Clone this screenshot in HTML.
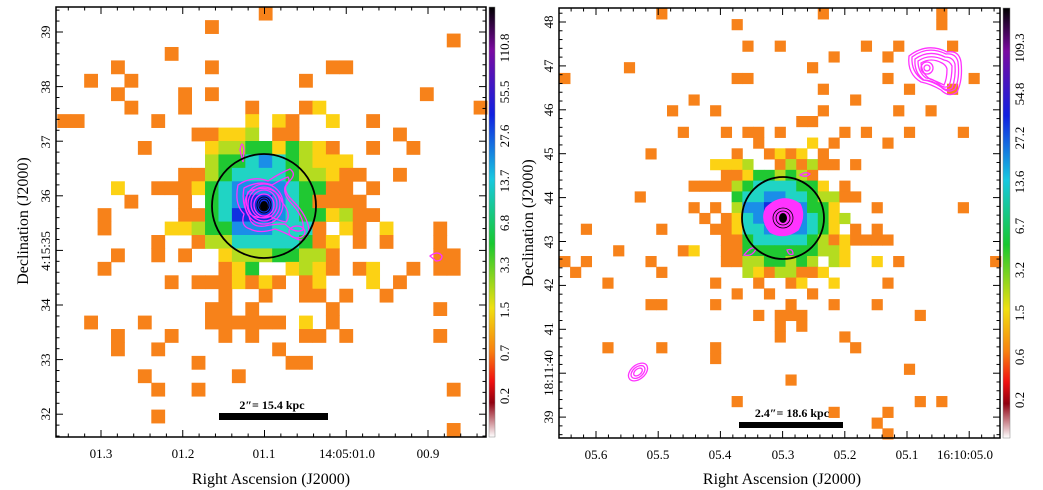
<!DOCTYPE html>
<html><head><meta charset="utf-8">
<style>
html,body{margin:0;padding:0;background:#fff;}
svg{display:block;font-family:"Liberation Serif",serif;}
</style></head>
<body>
<svg id="s" width="1043" height="490" viewBox="0 0 1043 490" xmlns="http://www.w3.org/2000/svg">
<defs>
<linearGradient id="cb" x1="0" y1="0" x2="0" y2="1">
<stop offset="0" stop-color="#000"/>
<stop offset="0.1" stop-color="#7a0aa0"/>
<stop offset="0.25" stop-color="#1020e0"/>
<stop offset="0.4" stop-color="#18c8e0"/>
<stop offset="0.55" stop-color="#18c830"/>
<stop offset="0.7" stop-color="#f0e010"/>
<stop offset="0.8" stop-color="#f88010"/>
<stop offset="0.87" stop-color="#f01010"/>
<stop offset="0.92" stop-color="#900010"/>
<stop offset="1" stop-color="#fff"/>
</linearGradient>
</defs>
<g id="px"></g>
<g id="tk" stroke="#000" stroke-width="1"></g>
<rect x="56" y="7" width="430" height="430" fill="none" stroke="#000" stroke-width="1.5"/>
<rect x="489" y="7" width="6" height="430" fill="url(#cb)" stroke="#888" stroke-width="0.5"/>
<rect x="559" y="8" width="441" height="430" fill="none" stroke="#000" stroke-width="1.5"/>
<rect x="1003" y="8" width="7" height="430" fill="url(#cb)" stroke="#888" stroke-width="0.5"/>

<!-- left contours -->
<g fill="none" stroke="#ff33ff" stroke-width="1.3">
<path d="M240,150 q2,-12 4,0 l-1,12 z"/>
<path d="M238,185 q15,-10 30,-4 q12,-8 22,-12 q8,6 -3,14 q-5,8 6,18 q15,15 16,30 q-3,12 -12,8 q-15,-8 -22,-10 q-15,5 -25,0 q-10,-3 -6,-15 q-10,-10 -6,-29z"/>
<path d="M244,188 q15,-8 28,-3 q10,-6 16,-8 q3,4 -3,10 q-2,8 8,18 q12,14 10,25 q-8,4 -18,-6 q-12,0 -20,2 q-14,2 -16,-10 q-8,-12 -5,-28z"/>
<path d="M248,192 q12,-6 24,-2 q8,4 10,12 q10,12 4,20 q-10,-2 -16,-6 q-12,4 -20,-2 q-6,-10 -2,-22z"/>
<ellipse cx="297" cy="232" rx="8" ry="6"/>
<ellipse cx="264" cy="204" rx="19" ry="20"/>
<ellipse cx="264" cy="204" rx="16" ry="17"/>
<ellipse cx="264" cy="204" rx="13" ry="14"/>
<ellipse cx="264" cy="205" rx="10" ry="11"/>
<path d="M430,256 q8,-6 12,0 q0,5 -6,5 z"/>
</g>
<g fill="none" stroke="#000" stroke-width="0.8">
<ellipse cx="264" cy="205" rx="7" ry="8"/><ellipse cx="264" cy="205" rx="5" ry="6"/>
</g>
<ellipse cx="264" cy="206" rx="4" ry="5" fill="#000"/>
<circle cx="264" cy="206" r="52" fill="none" stroke="#000" stroke-width="1.8"/>

<!-- right contours -->
<g fill="none" stroke="#ff33ff" stroke-width="1.3">
<path d="M766,208 q16,-16 34,-4 q6,12 -2,26 q-14,10 -28,2 q-10,-12 -4,-24z" fill="#ff33ff"/>
<path d="M800,175 q6,-4 10,-1 q-4,4 -10,1z"/>
<path d="M744,255 q8,-10 12,-6 q-4,8 -12,6z"/>
<path d="M787,250 q6,-2 6,4 q-4,2 -6,-4z"/>
<path d="M909,56 q18,-14 38,-4 q12,-2 14,10 q2,18 -4,30 q-8,6 -16,-2 q-10,-6 -20,-8 q-14,-8 -12,-26z"/>
<path d="M912,57 q16,-12 34,-3 q10,-1 12,8 q2,16 -3,27 q-7,5 -14,-2 q-9,-6 -18,-7 q-12,-8 -11,-23z"/>
<path d="M915,59 q14,-10 30,-2 q8,0 10,7 q1,14 -3,24 q-6,4 -12,-2 q-8,-6 -16,-6 q-10,-7 -9,-21z"/>
<path d="M918,61 q12,-8 26,-1 q6,1 8,6 q0,12 -3,20 q-5,3 -10,-2 q-7,-6 -13,-6 q-8,-6 -8,-17z"/>
<path d="M921,63 q10,-6 21,0 q4,2 5,6 q0,10 -3,16 q-8,-4 -14,-6 q-8,-5 -9,-16z"/>
<ellipse cx="927" cy="68" rx="6" ry="6"/>
<ellipse cx="927" cy="68" rx="3" ry="3"/>
<ellipse cx="638" cy="372" rx="11" ry="7" transform="rotate(-40 638 372)"/>
<ellipse cx="638" cy="372" rx="8" ry="5" transform="rotate(-40 638 372)"/>
<ellipse cx="638" cy="372" rx="5" ry="3" transform="rotate(-40 638 372)"/>
</g>
<g fill="none" stroke="#000" stroke-width="0.8">
<ellipse cx="783" cy="218" rx="7" ry="7"/><ellipse cx="783" cy="218" rx="10" ry="10"/>
</g>
<ellipse cx="783" cy="218" rx="4" ry="5" fill="#000"/>
<circle cx="783" cy="218" r="41" fill="none" stroke="#000" stroke-width="1.8"/>

<rect x="219" y="413" width="109" height="7" fill="#000"/>
<text x="272" y="409" font-size="12" font-weight="bold" text-anchor="middle">2″= 15.4 kpc</text>
<rect x="739" y="422" width="104" height="6" fill="#000"/>
<text x="792" y="417" font-size="12" font-weight="bold" text-anchor="middle">2.4″= 18.6 kpc</text>

<g font-size="13" text-anchor="middle">
<text x="101" y="458">01.3</text><text x="183" y="458">01.2</text><text x="264" y="458">01.1</text><text x="347" y="458">14:05:01.0</text><text x="428" y="458">00.9</text>
<text x="596" y="459">05.6</text><text x="658" y="459">05.5</text><text x="720" y="459">05.4</text><text x="783" y="459">05.3</text><text x="845" y="459">05.2</text><text x="907" y="459">05.1</text><text x="965" y="459">16:10:05.0</text>
</g>
<g font-size="13" text-anchor="middle" id="yl"></g>
<text x="271" y="484" font-size="16" text-anchor="middle">Right Ascension (J2000)</text>
<text x="782" y="484" font-size="16" text-anchor="middle">Right Ascension (J2000)</text>
<text transform="translate(28,221) rotate(-90)" font-size="16" text-anchor="middle">Declination (J2000)</text>
<text transform="translate(533,223) rotate(-90)" font-size="16" text-anchor="middle">Declination (J2000)</text>
</svg>
<script>
var NS="http://www.w3.org/2000/svg";
var col={O:"#f7821a",Y:"#fcd214",L:"#b4dc20",G:"#20c832",C:"#20d4c4",B:"#1a8ee8",D:"#1030e0"};
function el(p,t,a,txt){var e=document.createElementNS(NS,t);for(var k in a)e.setAttribute(k,a[k]);if(txt)e.textContent=txt;p.appendChild(e);return e;}
var px=document.getElementById("px");
function grid(ox,oy,s,data){
 for(var r=0;r<data.length;r++){var row=data[r];if(!row)continue;
  row.split(" ").forEach(function(t){if(!t)return;var c=parseInt(t);var k=t.replace(/[0-9]/g,"")||"O";
   var x=ox+c*s,y=oy+r*s;el(px,"rect",{x:x.toFixed(2),y:y.toFixed(2),width:(s+0.4).toFixed(2),height:(s+0.4).toFixed(2),fill:col[k]});});}
}
var L=[
"15","11","29","8","4 11 20 21","2 5 18","4 9 11 27","5 9 14 18 19Y 31","0 1 7 14Y 16Y 17 20Y 23",
"10 11 12Y 13Y 14L 16 17 25","6 11Y 12L 13L 14G 15G 16Y 17G 18L 19Y 20 23 26",
"11L 12G 13G 14C 15B 16C 17G 18L 19Y 20Y 21Y",
"9 10 11L 12G 13C 14C 15C 16C 17G 18L 19L 20Y 21 22 25",
"4Y 7 8 9 10Y 11G 12C 13B 14B 15B 16B 17C 18G 19G 20 21 23",
"5 9 11G 12C 13B 14D 15D 16B 17C 18G 19 20 21 22",
"3 9 10 11G 12C 13D 14D 15D 16B 17C 18G 19G 20Y 21L 22 23",
"3 8Y 9Y 10L 11G 12G 13B 14B 15B 16C 17C 18C 19 21Y 22 24Y 28",
"7 10 11L 12L 13C 14C 15C 16C 17C 18G 19 20Y 22 24 28",
"4 7 9 12Y 13L 14L 15L 16G 17G 18L 19L 20 28 29",
"3 12 13Y 14G 17Y 18L 19Y 20 22 23Y 26 28 29",
"8 10 11 12 13Y 14 15Y 16 18 19Y 23Y 25",
"12 15 18 19 21 24","11 12 14 20 28","2 6 11 12 13 14 15 16 18Y 20",
"4 8 12 14 18 19 21 28","4 7 16","10 17 18","6 13","7 10 29","","7","29"];
grid(57.3,6.7,13.43,L);
var R=[
"9 24 35","16 35","","17 20 28 31 36","25 30","6 23","0 16 17 30 38","24 32 36","12 27",
"10 14 24 31 34","22 23","11 15 17 18 20 26 28 32 37","18 23Y 25 30",
"8 16 19 20Y 21 22Y 24","14Y 15Y 16Y 17L 20 21L 22 23L 24 25 27",
"15 16 17Y 18G 19G 20L 21G 22L 23",
"12 13 14 15 16L 17G 18C 19C 20C 21C 22G 23G 24Y 26",
"7 16G 17C 18C 19B 20B 21C 22C 23G 24L 25L 26 27",
"12 14 16L 17B 18B 19D 20D 21D 22B 23G 24G 25Y 29 37",
"13 15 16Y 17C 18B 19D 20D 21D 22B 23C 24G 25Y 26L",
"2 9 14 15 16Y 17C 18C 19B 20D 21B 22B 23C 24G 25Y 27 29",
"15 16 17G 18C 19C 20C 21C 22C 23G 24L 25 26Y 27 28 29 30",
"5 11 12Y 15 16 17G 18G 19G 20G 21G 22G 23G 24L 25L 26Y",
"0 2 8 15 16 17L 18L 19G 20G 21L 22G 23L 25L 26Y 29Y 31 40",
"1 9 17L 18Y 19 20L 21L 22 23 24Y",
"4 14 18 21 22Y 25Y 30","16 19 23","8 9 14 21 25 29","18 20 21 22 33","20 22","20 26",
"4 9 14 27","14","32","21","","16 33 35","25 30","29","30"];
grid(559.3,8.3,10.77,R);
var tk=document.getElementById("tk");
function ln(x1,y1,x2,y2){el(tk,"line",{x1:x1,y1:y1,x2:x2,y2:y2});}
function ticksX(x0,x1,majors,step,yT,yB){
 var sub=step/5;var start=majors[0];while(start-sub>x0)start-=sub;
 for(var x=start;x<x1;x+=sub){var isM=majors.some(function(m){return Math.abs(m-x)<1;});var l=isM?7:3.5;
  ln(x,yT,x,yT+l);ln(x,yB,x,yB-l);}
}
function ticksY(y0,y1,majors,step,xL,xR){
 var sub=step/5;var start=majors[0];while(start-sub>y0)start-=sub;
 for(var y=start;y<y1;y+=sub){var isM=majors.some(function(m){return Math.abs(m-y)<1;});var l=isM?7:3.5;
  ln(xL,y,xL+l,y);ln(xR,y,xR-l,y);}
}
ticksX(56,486,[101,183,264,347,428],81.75,7,437);
ticksY(7,437,[32,87,142,196,251,305,360,414],54.6,56,486);
ticksX(559,1000,[596,658,720,783,845,907,970],62.2,8,438);
ticksY(8,438,[22,66,110,154,198,242,285,329,373,417],43.9,559,1000);
var yl=document.getElementById("yl");
function rl(x,y,t){el(yl,"text",{transform:"translate("+x+","+y+") rotate(-90)"},t);}
[["39",32],["38",87],["37",142],["36",196],["4:15:35",251],["34",305],["33",360],["32",414]].forEach(function(a){rl(50,a[1],a[0]);});
[["48",22],["47",66],["46",110],["45",154],["44",198],["43",242],["42",285],["41",329],["18:11:40",373],["39",417]].forEach(function(a){rl(553,a[1],a[0]);});
[["110.8",48],["55.5",92],["27.6",136],["13.7",181],["6.8",223],["3.3",265],["1.5",310],["0.7",353],["0.2",396]].forEach(function(a){rl(509,a[1],a[0]);});
[["109.3",48],["54.8",94],["27.2",138],["13.6",182],["6.7",226],["3.2",270],["1.5",313],["0.6",357],["0.2",400]].forEach(function(a){rl(1024,a[1],a[0]);});
</script>
</body></html>
